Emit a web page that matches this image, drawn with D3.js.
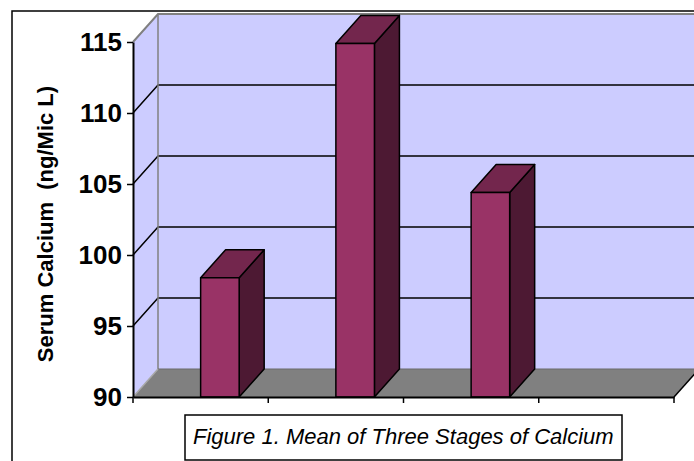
<!DOCTYPE html>
<html>
<head>
<meta charset="utf-8">
<script src="https://cdn.jsdelivr.net/npm/d3@7"></script>
<style>
  html, body { margin: 0; padding: 0; background: #fff; }
  svg { display: block; font-family: "Liberation Sans", Arial, sans-serif; }
</style>
</head>
<body>
<svg id="chart" width="694" height="461"></svg>
<script>
// Mean serum calcium for three stages
const categories = ["Stage 1", "Stage 2", "Stage 3"];
const values = [98.4, 114.9, 104.4];
const yTicks = [90, 95, 100, 105, 110, 115];
const yTitle = "Serum Calcium  (ng/Mic L)";
const caption = "Figure 1. Mean of Three Stages of Calcium";

const svg = d3.select("#chart");

// category axis has one trailing empty slot
const xDomain = [...categories, ""];
const x = d3.scaleBand().domain(xDomain).range([133, 674]).paddingInner(0).paddingOuter(0);
const y = d3.scaleLinear().domain([90, 115]).range([397, 42]);

// oblique depth offset of the 3‑D box
const DX = 25, DY = -28;
const x0 = x.range()[0], x1 = x.range()[1];
const yTop = y(115), yBot = y(90);

const wall = "#CCCCFF", edge = "#808080";

// outer frame
svg.append("rect").attr("x", 12).attr("y", 11).attr("width", 700).attr("height", 470)
  .attr("fill", "#fff").attr("stroke", "#000").attr("stroke-width", 1.5);

// side wall
svg.append("polygon")
  .attr("points", [[x0, yTop], [x0 + DX, yTop + DY], [x0 + DX, yBot + DY], [x0, yBot]].join(" "))
  .attr("fill", wall);

// back wall
svg.append("rect").attr("x", x0 + DX).attr("y", yTop + DY)
  .attr("width", x1 - x0 + 10).attr("height", yBot - yTop)
  .attr("fill", wall);

// gridlines on side and back walls
const inner = yTicks.filter(v => v > 90 && v < 115);
svg.append("g").selectAll("path").data(inner).join("path")
  .attr("d", v => `M${x0},${y(v)}L${x0 + DX},${y(v) + DY}L${x1 + DX + 10},${y(v) + DY}`)
  .attr("fill", "none").attr("stroke", "#000").attr("stroke-width", 1.5);

// wall edges
svg.append("path")
  .attr("d", `M${x0},${yTop}L${x0 + DX},${yTop + DY}L${x1 + DX + 10},${yTop + DY}`)
  .attr("fill", "none").attr("stroke", edge).attr("stroke-width", 2);
svg.append("line").attr("x1", x0 + DX).attr("x2", x0 + DX)
  .attr("y1", yTop + DY).attr("y2", yBot + DY)
  .attr("stroke", edge).attr("stroke-width", 1.5);

// floor
svg.append("polygon")
  .attr("points", [[x0, yBot], [x1, yBot], [x1 + DX, yBot + DY], [x0 + DX, yBot + DY]].join(" "))
  .attr("fill", "#808080");
svg.append("line").attr("x1", x0 + DX).attr("x2", x1 + DX + 10)
  .attr("y1", yBot + DY).attr("y2", yBot + DY)
  .attr("stroke", "#6a6a6a").attr("stroke-width", 1);
svg.append("line").attr("x1", x0).attr("y1", yBot).attr("x2", x0 + DX).attr("y2", yBot + DY)
  .attr("stroke", "#a8a8a8").attr("stroke-width", 1.5);
svg.append("line").attr("x1", x1).attr("y1", yBot).attr("x2", x1 + DX).attr("y2", yBot + DY)
  .attr("stroke", "#000").attr("stroke-width", 1.5);

// bars
const bw = x.bandwidth();
const bars = svg.append("g").selectAll("g").data(categories.map((c, i) => ({ c, v: values[i] })))
  .join("g")
  .attr("stroke", "#000").attr("stroke-width", 1.5).attr("stroke-linejoin", "round");

bars.each(function (d) {
  const g = d3.select(this);
  const left = x(d.c) + bw * 0.5;
  const right = left + bw * 0.285;
  const top = y(d.v);
  // side face
  g.append("polygon")
    .attr("points", [[right, top], [right + DX, top + DY], [right + DX, yBot + DY], [right, yBot]].join(" "))
    .attr("fill", "#4D1933");
  // top face
  g.append("polygon")
    .attr("points", [[left, top], [left + DX, top + DY], [right + DX, top + DY], [right, top]].join(" "))
    .attr("fill", "#73264D");
  // front face
  g.append("rect").attr("x", left).attr("y", top)
    .attr("width", right - left).attr("height", yBot - top)
    .attr("fill", "#993366");
});

// value axis
const yAxis = svg.append("g").attr("transform", `translate(${x0},0)`)
  .call(d3.axisLeft(y).tickValues(yTicks).tickSize(6).tickPadding(5).tickSizeOuter(0));
yAxis.select(".domain").attr("stroke", "#000").attr("stroke-width", 2);
yAxis.selectAll(".tick line").attr("stroke", "#000").attr("stroke-width", 1.5);
yAxis.selectAll(".tick text")
  .attr("font-family", "'Liberation Sans', Arial, sans-serif")
  .attr("font-size", 26).attr("font-weight", "bold").attr("fill", "#000");

// category axis (no labels)
const xAxis = svg.append("g").attr("transform", `translate(0,${yBot})`)
  .call(d3.axisBottom(x).tickSize(6).tickSizeOuter(0).tickFormat(""));
xAxis.selectAll(".tick").remove();
xAxis.select(".domain").attr("stroke", "#000").attr("stroke-width", 2);
const xBounds = xDomain.map(c => x(c)).concat([x1]);
xAxis.selectAll("line.bound").data(xBounds).join("line").attr("class", "bound")
  .attr("x1", d => d).attr("x2", d => d).attr("y1", 0).attr("y2", 6)
  .attr("stroke", "#000").attr("stroke-width", 1.5);

// axis title
svg.append("text")
  .attr("transform", "translate(53,224) rotate(-90)")
  .attr("text-anchor", "middle")
  .attr("font-size", 22).attr("font-weight", "bold")
  .style("white-space", "pre")
  .text(yTitle);

// caption box
svg.append("rect").attr("x", 185).attr("y", 415).attr("width", 437).attr("height", 45)
  .attr("fill", "#fff").attr("stroke", "#000").attr("stroke-width", 1.5);
svg.append("text").attr("x", 193).attr("y", 444)
  .attr("font-size", 22).attr("font-style", "italic")
  .text(caption);
</script>
</body>
</html>
